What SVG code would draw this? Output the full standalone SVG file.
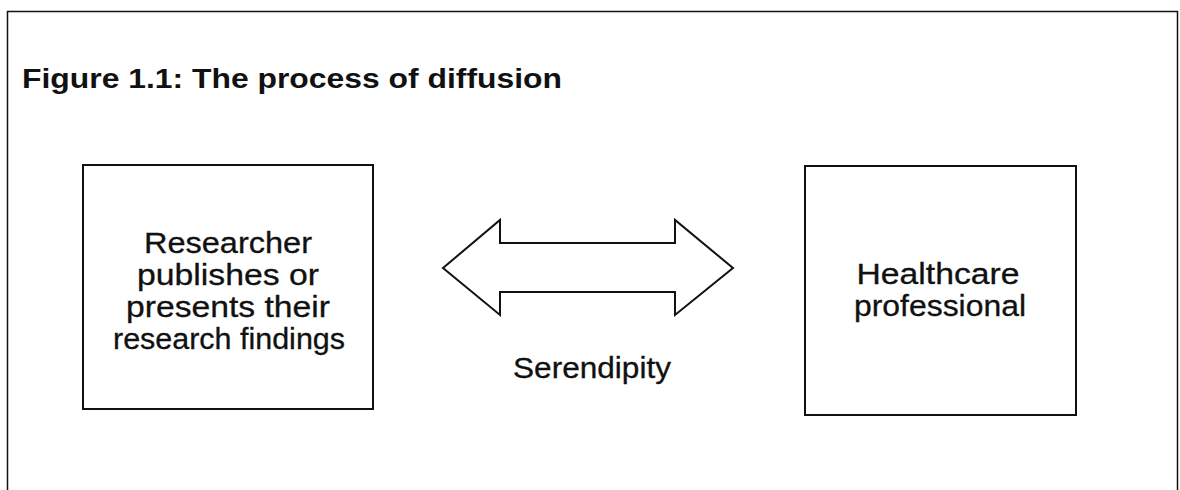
<svg xmlns="http://www.w3.org/2000/svg" width="1180" height="490" viewBox="0 0 1180 490">
  <style>
    .frame { fill: none; stroke: #111; stroke-width: 1.5; }
    .box { fill: #fff; stroke: #111; stroke-width: 2; }
    .title { font-family: "Liberation Sans", Arial, sans-serif; font-weight: bold; font-size: 27px; fill: #111; }
    .label { font-family: "Liberation Sans", Arial, sans-serif; font-size: 29px; fill: #111; text-anchor: middle; stroke: #111; stroke-width: 0.3; }
    .arrow { fill: #fff; stroke: #111; stroke-width: 2; stroke-linejoin: miter; }
  </style>

  <rect width="1180" height="490" fill="#fff"/>

  <!-- figure frame, open at the bottom -->
  <path class="frame" d="M7.5,495 V11.5 H1177.5 V495"/>

  <text class="title" x="22" y="88" textLength="540" lengthAdjust="spacingAndGlyphs">Figure 1.1: The process of diffusion</text>

  <g id="researcher">
    <rect class="box" x="83" y="165" width="290" height="244"/>
    <text class="label" x="228" y="253" textLength="168" lengthAdjust="spacingAndGlyphs">Researcher</text>
    <text class="label" x="228" y="285" textLength="182" lengthAdjust="spacingAndGlyphs">publishes or</text>
    <text class="label" x="228" y="317" textLength="204" lengthAdjust="spacingAndGlyphs">presents their</text>
    <text class="label" x="229" y="349" textLength="232" lengthAdjust="spacingAndGlyphs">research findings</text>
  </g>

  <g id="professional">
    <rect class="box" x="805" y="166" width="271" height="249"/>
    <text class="label" x="938" y="284" textLength="163" lengthAdjust="spacingAndGlyphs">Healthcare</text>
    <text class="label" x="940" y="316" textLength="172" lengthAdjust="spacingAndGlyphs">professional</text>
  </g>

  <g id="connectors">
    <!-- double-headed block arrow -->
    <path class="arrow" d="M443,268 L500,220 V243 H675 V220 L733,268 L675,315 V292 H500 V315 Z"/>
    <text class="label" x="592" y="378" textLength="158" lengthAdjust="spacingAndGlyphs">Serendipity</text>
  </g>
</svg>
